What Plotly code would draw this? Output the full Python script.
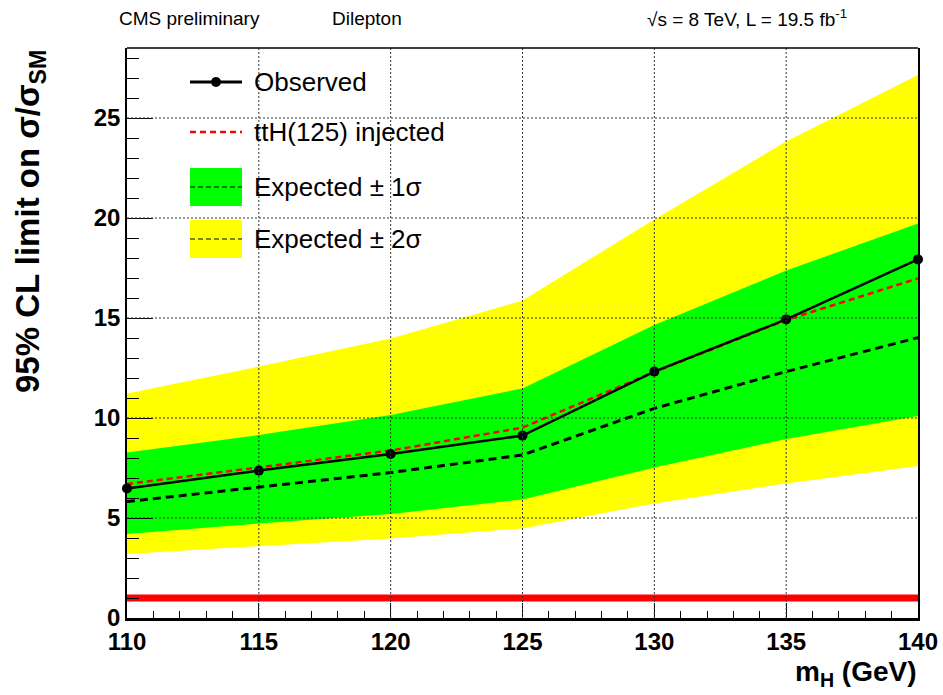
import plotly.graph_objects as go

# ---- data ----
mass = [110, 115, 120, 125, 130, 135, 140]
observed = [6.48, 7.37, 8.20, 9.12, 12.32, 14.93, 17.93]
injected = [6.70, 7.53, 8.37, 9.52, 12.30, 14.90, 16.98]
expected = [5.82, 6.53, 7.27, 8.15, 10.48, 12.32, 14.02]
band1_lo = [4.20, 4.73, 5.20, 5.93, 7.53, 8.95, 10.10]
band1_hi = [8.27, 9.15, 10.15, 11.48, 14.65, 17.37, 19.73]
band2_lo = [3.20, 3.60, 3.98, 4.48, 5.73, 6.73, 7.60]
band2_hi = [11.23, 12.57, 13.98, 15.87, 19.93, 23.82, 27.15]
sm_x = [110, 140]
sm_y = [1, 1]

x_ticks = [110, 115, 120, 125, 130, 135, 140]
y_ticks = [0, 5, 10, 15, 20, 25]
x_grid = [115, 120, 125, 130, 135]
y_grid = [5, 10, 15, 20, 25]

W, H = 943, 695
L, R, T, B = 127, 25, 48, 77
PW, PH = W - L - R, H - T - B
FONT = "Liberation Sans, Arial, Helvetica, sans-serif"


def px(xp):
    return (xp - L) / PW


def py(yp):
    return (H - B - yp) / PH


fig = go.Figure()

# yellow band
fig.add_trace(go.Scatter(x=mass, y=band2_lo, mode="lines", line=dict(width=0),
                         showlegend=False, hoverinfo="skip"))
fig.add_trace(go.Scatter(x=mass, y=band2_hi, mode="lines", line=dict(width=0),
                         fill="tonexty", fillcolor="#FFFF00", showlegend=False))
# green band
fig.add_trace(go.Scatter(x=mass, y=band1_lo, mode="lines", line=dict(width=0),
                         showlegend=False, hoverinfo="skip"))
fig.add_trace(go.Scatter(x=mass, y=band1_hi, mode="lines", line=dict(width=0),
                         fill="tonexty", fillcolor="#00FF00", showlegend=False))

# SM line at 1
fig.add_trace(go.Scatter(x=sm_x, y=sm_y, mode="lines",
                         line=dict(color="#FF0000", width=7), showlegend=False))

# expected
fig.add_trace(go.Scatter(x=mass, y=expected, mode="lines",
                         line=dict(color="black", width=3, dash="8px,5px"),
                         showlegend=False))
# injected
fig.add_trace(go.Scatter(x=mass, y=injected, mode="lines",
                         line=dict(color="#FF0000", width=2.5, dash="6px,4px"),
                         showlegend=False))
# observed
fig.add_trace(go.Scatter(x=mass, y=observed, mode="lines+markers",
                         line=dict(color="black", width=2.5),
                         marker=dict(color="black", size=10),
                         cliponaxis=False, showlegend=False))

shapes = []
# dotted grid above fills
for g in x_grid:
    shapes.append(dict(type="line", xref="x", yref="paper", x0=g, x1=g, y0=0, y1=1,
                       line=dict(color="#333333", width=1, dash="2px,2px"), layer="above"))
for g in y_grid:
    shapes.append(dict(type="line", xref="paper", yref="y", x0=0, x1=1, y0=g, y1=g,
                       line=dict(color="#333333", width=1, dash="2px,2px"), layer="above"))
# top frame line
shapes.append(dict(type="line", xref="paper", yref="paper", x0=0, x1=1, y0=1, y1=1,
                   line=dict(color="black", width=1.5), layer="above"))

# ---- manual legend ----
sx0, sx1 = px(190), px(242)
shapes.append(dict(type="line", xref="paper", yref="paper", x0=sx0, x1=sx1,
                   y0=py(82), y1=py(82), line=dict(color="black", width=3)))
shapes.append(dict(type="circle", xref="paper", yref="paper",
                   x0=px(211), x1=px(221), y0=py(87), y1=py(77),
                   fillcolor="black", line=dict(color="black", width=0)))
shapes.append(dict(type="line", xref="paper", yref="paper", x0=sx0, x1=sx1,
                   y0=py(132), y1=py(132),
                   line=dict(color="#FF0000", width=2.5, dash="6px,4px")))
shapes.append(dict(type="rect", xref="paper", yref="paper", x0=sx0, x1=sx1,
                   y0=py(206), y1=py(168), fillcolor="#00FF00", line=dict(width=0)))
shapes.append(dict(type="line", xref="paper", yref="paper", x0=sx0, x1=sx1,
                   y0=py(187), y1=py(187),
                   line=dict(color="black", width=1.2, dash="5px,3px")))
shapes.append(dict(type="rect", xref="paper", yref="paper", x0=sx0, x1=sx1,
                   y0=py(258), y1=py(220), fillcolor="#FFFF00", line=dict(width=0)))
shapes.append(dict(type="line", xref="paper", yref="paper", x0=sx0, x1=sx1,
                   y0=py(239), y1=py(239),
                   line=dict(color="black", width=1.2, dash="5px,3px")))

annotations = []
leg_items = [("Observed", 82), ("ttH(125) injected", 132),
             ("Expected ± 1σ", 187), ("Expected ± 2σ", 239)]
for txt, yy in leg_items:
    annotations.append(dict(text=txt, xref="paper", yref="paper", x=px(252), y=py(yy),
                            xanchor="left", yanchor="middle", showarrow=False,
                            font=dict(family=FONT, size=26, color="black")))

# header texts
for txt, xx in [("CMS preliminary", 117), ("Dilepton", 330),
                ("√s = 8 TeV, L = 19.5 fb<sup>-1</sup>", 645)]:
    annotations.append(dict(text=txt, xref="paper", yref="paper", x=px(xx), y=py(18),
                            xanchor="left", yanchor="middle", showarrow=False,
                            font=dict(family=FONT, size=19, color="black")))

# axis titles
annotations.append(dict(text="m<sub>H</sub> (GeV)", xref="paper", yref="paper",
                        x=px(919), y=py(673), xanchor="right", yanchor="middle",
                        showarrow=False,
                        font=dict(family=FONT, size=28, color="black", weight="bold")))
annotations.append(dict(text="95% CL limit on σ/σ<sub>SM</sub>", xref="paper", yref="paper",
                        x=px(30), y=py(222), xanchor="center", yanchor="middle",
                        textangle=-90, showarrow=False,
                        font=dict(family=FONT, size=33, color="black", weight="bold")))

fig.update_layout(
    width=W, height=H, autosize=False,
    margin=dict(l=L, r=R, t=T, b=B, pad=0),
    paper_bgcolor="white", plot_bgcolor="white",
    showlegend=False,
    shapes=shapes, annotations=annotations,
    font=dict(family=FONT, color="black"),
    xaxis=dict(range=[110, 140], tickvals=x_ticks, ticktext=[str(v) for v in x_ticks],
               showgrid=False, zeroline=False, automargin=False,
               showline=True, linecolor="black", linewidth=3, mirror=False,
               ticks="inside", ticklen=15, tickwidth=1.2, tickcolor="black",
               minor=dict(dtick=1, ticks="inside", ticklen=7, tickcolor="black",
                          tickwidth=1.2, showgrid=False),
               tickfont=dict(family=FONT, size=24, color="black", weight="bold"),
               layer="above traces"),
    yaxis=dict(range=[0, 28.5], tickvals=y_ticks, ticktext=[str(v) for v in y_ticks],
               showgrid=False, zeroline=False, automargin=False,
               showline=True, linecolor="black", linewidth=1.5, mirror=True,
               ticks="inside", ticklen=26, tickwidth=1.2, tickcolor="black",
               minor=dict(dtick=1, ticks="inside", ticklen=12, tickcolor="black",
                          tickwidth=1.2, showgrid=False),
               tickfont=dict(family=FONT, size=24, color="black", weight="bold"),
               layer="above traces"),
)

fig.write_html("out.html",
               config={"displayModeBar": False, "responsive": False},
               post_script="document.body.style.margin='0px';"
                           "document.body.style.overflow='hidden';")
